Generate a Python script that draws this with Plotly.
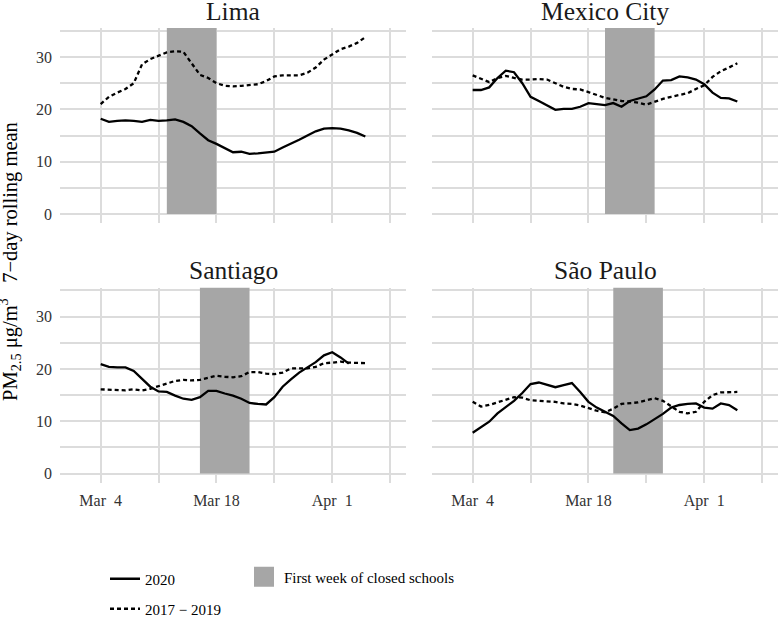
import pandas as pd
import plotly.graph_objects as go

# ---------------- data ----------------
cities = ["Lima", "Mexico City", "Santiago", "São Paulo"]
start_date = "2020-03-04"

lima_2020 = [18.2, 17.6, 17.8, 17.9, 17.8, 17.6, 18.0, 17.8, 17.9, 18.1, 17.6, 16.8, 15.4, 14.1,
             13.4, 12.6, 11.8, 11.9, 11.5, 11.6, 11.7, 11.9, 12.7, 13.4, 14.2, 15.0, 15.8, 16.3,
             16.4, 16.3, 16.0, 15.5, 14.8]
lima_hist = [21.0, 22.4, 23.2, 23.9, 25.0, 28.6, 29.6, 30.3, 30.9, 31.1, 31.0, 28.8, 26.6, 26.0,
             25.0, 24.5, 24.4, 24.5, 24.6, 24.8, 25.4, 26.3, 26.5, 26.5, 26.5, 27.0, 28.0, 29.5,
             30.5, 31.5, 32.0, 32.7, 33.8]
mexico_2020 = [23.7, 23.7, 24.2, 26.0, 27.4, 27.1, 25.0, 22.4, 21.6, 20.8, 19.9, 20.1, 20.1, 20.5,
               21.2, 21.0, 20.8, 21.2, 20.5, 21.6, 22.0, 22.5, 23.8, 25.5, 25.6, 26.3, 26.1, 25.7,
               24.8, 23.2, 22.2, 22.1, 21.5]
mexico_hist = [26.5, 25.8, 25.2, 26.0, 26.4, 26.0, 25.7, 25.7, 25.8, 25.7, 25.0, 24.3, 23.9, 23.8,
               23.3, 22.7, 22.2, 21.9, 21.6, 21.5, 21.3, 20.9, 21.5, 22.0, 22.4, 22.7, 23.1, 23.9,
               24.6, 26.2, 27.3, 28.0, 28.8]
santiago_2020 = [20.9, 20.4, 20.3, 20.3, 19.6, 18.0, 16.6, 15.7, 15.6, 14.9, 14.3, 14.1, 14.6, 15.8,
                 15.8, 15.3, 14.9, 14.3, 13.5, 13.3, 13.2, 14.6, 16.6, 18.0, 19.3, 20.3, 21.3, 22.6,
                 23.2, 22.2, 21.0]
santiago_hist = [16.1, 16.0, 15.9, 15.9, 16.1, 15.9, 16.2, 16.7, 17.3, 17.7, 17.9, 17.8, 17.9, 18.3,
                 18.7, 18.5, 18.4, 18.6, 19.4, 19.4, 19.1, 19.0, 19.3, 20.1, 20.1, 20.1, 20.4, 21.1,
                 21.2, 21.4, 21.2, 21.1, 21.1]
saopaulo_2020 = [7.8, 8.8, 9.9, 11.5, 12.7, 13.9, 15.4, 17.1, 17.4, 16.9, 16.5, 16.9, 17.3, 15.6,
                 13.7, 12.6, 11.8, 11.0, 9.6, 8.3, 8.6, 9.4, 10.4, 11.4, 12.6, 13.1, 13.3, 13.4,
                 12.6, 12.4, 13.4, 13.1, 12.1]
saopaulo_hist = [13.7, 12.8, 13.1, 13.6, 14.2, 14.6, 14.5, 14.0, 13.9, 13.8, 13.7, 13.4, 13.3, 13.0,
                 12.5, 12.0, 11.7, 12.4, 13.3, 13.4, 13.6, 14.0, 14.4, 13.9, 12.9, 11.8, 11.5, 11.8,
                 13.7, 15.0, 15.5, 15.6, 15.6]

series_2020 = [lima_2020, mexico_2020, santiago_2020, saopaulo_2020]
series_hist = [lima_hist, mexico_hist, santiago_hist, saopaulo_hist]

closure_start = ["2020-03-12", "2020-03-20", "2020-03-16", "2020-03-21"]
closure_end = ["2020-03-18", "2020-03-26", "2020-03-22", "2020-03-27"]

x_tickvals = ["2020-03-04", "2020-03-11", "2020-03-18", "2020-03-25", "2020-04-01", "2020-04-08"]
x_ticktext = ["Mar\u00a0\u00a04", "", "Mar 18", "", "Apr\u00a0\u00a01", ""]
y_tickvals = [0, 5, 10, 15, 20, 25, 30, 35]
y_ticktext = ["0", "", "10", "", "20", "", "30", ""]

X_RANGE = ["2020-02-28 02:00", "2020-04-09 22:00"]
Y_RANGE = [-1.72, 35.55]

# ---------------- styling ----------------
FONT = "Liberation Serif, Times New Roman, serif"
W, H = 778, 617
GRID = "#DCDCDC"
SHADE = "#A6A6A6"
TICKC = "#333333"

col_dom = [[60 / W, 406 / W], [432 / W, 1.0]]
row_dom = [[1 - 223 / H, 1 - 28 / H], [1 - 482.5 / H, 1 - 287.6 / H]]
title_py = [12, 270]

fig = go.Figure()
dates = pd.date_range(start_date, periods=33)

for i, city in enumerate(cities):
    r, c = divmod(i, 2)
    ax = "" if i == 0 else str(i + 1)
    xa, ya = "x" + ax, "y" + ax
    v20 = series_2020[i]
    vh = series_hist[i]
    # shaded closure week (from 0 up to the top of the panel)
    fig.add_trace(go.Scatter(
        x=[closure_start[i], closure_start[i], closure_end[i], closure_end[i], closure_start[i]],
        y=[0, Y_RANGE[1], Y_RANGE[1], 0, 0], mode="lines", fill="toself",
        fillcolor=SHADE, line=dict(width=0, color=SHADE), xaxis=xa, yaxis=ya,
        showlegend=False, hoverinfo="skip"))
    fig.add_trace(go.Scatter(x=dates[:len(vh)], y=vh, mode="lines", xaxis=xa, yaxis=ya,
                             line=dict(color="black", width=2.3, dash="4px,3px"),
                             name="2017 \u2212 2019", legend="legend2", showlegend=(i == 0)))
    fig.add_trace(go.Scatter(x=dates[:len(v20)], y=v20, mode="lines", xaxis=xa, yaxis=ya,
                             line=dict(color="black", width=2.3),
                             name="2020", legend="legend", showlegend=(i == 0)))
    xaxis = dict(domain=col_dom[c], anchor=ya, range=X_RANGE, type="date", automargin=False,
                 tickvals=x_tickvals, ticktext=x_ticktext, showticklabels=(r == 1),
                 ticklabelstandoff=6,
                 showgrid=True, gridcolor=GRID, gridwidth=1.6, zeroline=False, showline=False,
                 ticks="", tickfont=dict(family=FONT, size=16, color=TICKC))
    yaxis = dict(domain=row_dom[r], anchor=xa, range=Y_RANGE, automargin=False,
                 tickvals=y_tickvals, ticktext=y_ticktext, showticklabels=(c == 0),
                 ticklabelstandoff=7,
                 showgrid=True, gridcolor=GRID, gridwidth=1.6, zeroline=False, showline=False,
                 ticks="", tickfont=dict(family=FONT, size=16, color=TICKC))
    fig.update_layout(**{"xaxis" + ax: xaxis, "yaxis" + ax: yaxis})
    fig.add_annotation(text=city, xref="paper", yref="paper",
                       x=sum(col_dom[c]) / 2, y=1 - title_py[r] / H,
                       xanchor="center", yanchor="middle", showarrow=False,
                       font=dict(family=FONT, size=25.5, color="#1A1A1A"))

# legend entry for the shaded area
fig.add_trace(go.Scatter(x=[None], y=[None], mode="markers",
                         marker=dict(symbol="square", size=16, color=SHADE,
                                     line=dict(color=SHADE, width=4)),
                         name="First week of closed schools", legend="legend3", showlegend=True))

fig.add_annotation(text="PM<sub>2.5</sub> \u03bcg/m<sup>3</sup>\u00a0\u00a0\u00a07\u2212day rolling mean",
                   xref="paper", yref="paper", x=10 / W, y=1 - 262 / H,
                   textangle=-90, showarrow=False, xanchor="center", yanchor="middle",
                   font=dict(family=FONT, size=20.5, color="black"))

leg_common = dict(font=dict(family=FONT, size=15, color="black"), bgcolor="rgba(0,0,0,0)",
                  xanchor="left", yanchor="middle", orientation="v")
fig.update_layout(
    width=W, height=H,
    margin=dict(l=0, r=0, t=0, b=0, autoexpand=False),
    plot_bgcolor="white", paper_bgcolor="white",
    font=dict(family=FONT),
    legend=dict(x=105 / W, y=1 - 579 / H, **leg_common),
    legend2=dict(x=105 / W, y=1 - 609 / H, **leg_common),
    legend3=dict(x=244 / W, y=1 - 577 / H, **leg_common),
)

fig.write_html("out.html", config={"displayModeBar": False},
               post_script="document.body.style.margin='0';document.body.style.overflow='hidden';")
